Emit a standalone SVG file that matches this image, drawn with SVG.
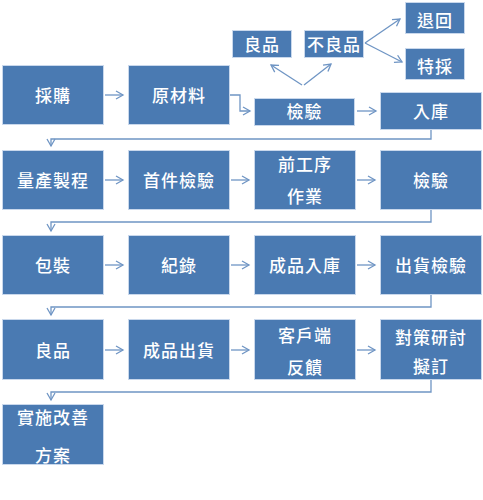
<svg xmlns="http://www.w3.org/2000/svg" width="483" height="500" viewBox="0 0 483 500">
<style>
.box{fill:#4a7ab2;stroke:#c9d8ec;stroke-width:1}
.t{fill:#ffffff;font-family:"Noto Sans CJK TC","Noto Sans CJK SC",sans-serif;font-size:17px;font-weight:500;text-anchor:middle;dominant-baseline:central;letter-spacing:1px}
.c{fill:none;stroke:#6f95c4;stroke-width:1.3}
</style>
<defs>
<marker id="ah" markerWidth="10" markerHeight="10" refX="8" refY="5" orient="auto" markerUnits="userSpaceOnUse">
<path d="M1,1 L8,5 L1,9" fill="none" stroke="#6f95c4" stroke-width="1.3"/>
</marker>
</defs>
<rect width="483" height="500" fill="#ffffff"/>
<g id="connectors">
<path class="c" d="M105,95 H123" marker-end="url(#ah)"/>
<path class="c" d="M230,95 H240 V111 H250" marker-end="url(#ah)"/>
<path class="c" d="M357,111 H376" marker-end="url(#ah)"/>
<path class="c" d="M302,85 L271,65" marker-end="url(#ah)"/>
<path class="c" d="M304,85 L331,64" marker-end="url(#ah)"/>
<path class="c" d="M365,43 L400,19" marker-end="url(#ah)"/>
<path class="c" d="M365,43 L402,62" marker-end="url(#ah)"/>
<path class="c" d="M431,130 V139 H51 V146" marker-end="url(#ah)"/>
<path class="c" d="M105,180 H123" marker-end="url(#ah)"/>
<path class="c" d="M231,180 H249" marker-end="url(#ah)"/>
<path class="c" d="M357,180 H375" marker-end="url(#ah)"/>
<path class="c" d="M431,210 V222 H51 V231" marker-end="url(#ah)"/>
<path class="c" d="M105,265 H123" marker-end="url(#ah)"/>
<path class="c" d="M231,265 H249" marker-end="url(#ah)"/>
<path class="c" d="M357,265 H375" marker-end="url(#ah)"/>
<path class="c" d="M431,295 V307 H51 V315" marker-end="url(#ah)"/>
<path class="c" d="M105,350 H123" marker-end="url(#ah)"/>
<path class="c" d="M231,350 H249" marker-end="url(#ah)"/>
<path class="c" d="M357,350 H375" marker-end="url(#ah)"/>
<path class="c" d="M431,380 V392 H51 V400" marker-end="url(#ah)"/>
</g>
<g id="n-caigou"><rect class="box" x="2.5" y="65.5" width="101" height="59"/><text class="t" x="53" y="94">採購</text></g>
<g id="n-yuancailiao"><rect class="box" x="128.5" y="65.5" width="101" height="59"/><text class="t" x="179" y="94">原材料</text></g>
<g id="n-jianyan1"><rect class="box" x="254.5" y="98.5" width="100" height="27"/><text class="t" x="304.5" y="110">檢驗</text></g>
<g id="n-ruku1"><rect class="box" x="380.5" y="92.5" width="101" height="37"/><text class="t" x="431" y="110">入庫</text></g>
<g id="n-liangpin1"><rect class="box" x="232.5" y="30.5" width="59" height="27"/><text class="t" x="262" y="43">良品</text></g>
<g id="n-buliangpin"><rect class="box" x="304.5" y="30.5" width="59" height="27"/><text class="t" x="334" y="43">不良品</text></g>
<g id="n-tuihui"><rect class="box" x="405.5" y="2.5" width="59" height="31"/><text class="t" x="435" y="19">退回</text></g>
<g id="n-tecai"><rect class="box" x="405.5" y="48.5" width="59" height="31"/><text class="t" x="435" y="65">特採</text></g>
<g id="n-liangchan"><rect class="box" x="2.5" y="150.5" width="101" height="59"/><text class="t" x="53" y="179">量產製程</text></g>
<g id="n-shoujian"><rect class="box" x="128.5" y="150.5" width="101" height="59"/><text class="t" x="179" y="179">首件檢驗</text></g>
<g id="n-qiangongxu"><rect class="box" x="254.5" y="150.5" width="101" height="59"/><text class="t" x="305" y="163">前工序</text><text class="t" x="305" y="195">作業</text></g>
<g id="n-jianyan2"><rect class="box" x="380.5" y="150.5" width="101" height="59"/><text class="t" x="431" y="179">檢驗</text></g>
<g id="n-baozhuang"><rect class="box" x="2.5" y="235.5" width="101" height="59"/><text class="t" x="53" y="264">包裝</text></g>
<g id="n-jilu"><rect class="box" x="128.5" y="235.5" width="101" height="59"/><text class="t" x="179" y="264">紀錄</text></g>
<g id="n-chengpinruku"><rect class="box" x="254.5" y="235.5" width="101" height="59"/><text class="t" x="305" y="264">成品入庫</text></g>
<g id="n-chuhuojianyan"><rect class="box" x="380.5" y="235.5" width="101" height="59"/><text class="t" x="431" y="264">出貨檢驗</text></g>
<g id="n-liangpin2"><rect class="box" x="2.5" y="319.5" width="101" height="60"/><text class="t" x="53" y="349">良品</text></g>
<g id="n-chengpinchuhuo"><rect class="box" x="128.5" y="319.5" width="101" height="60"/><text class="t" x="179" y="349">成品出貨</text></g>
<g id="n-kehuduan"><rect class="box" x="254.5" y="319.5" width="101" height="60"/><text class="t" x="305" y="334">客戶端</text><text class="t" x="305" y="366">反饋</text></g>
<g id="n-duice"><rect class="box" x="380.5" y="319.5" width="101" height="60"/><text class="t" x="431" y="336">對策研討</text><text class="t" x="431" y="365">擬訂</text></g>
<g id="n-shishi"><rect class="box" x="2.5" y="404.5" width="101" height="60"/><text class="t" x="53" y="416">實施改善</text><text class="t" x="53" y="454">方案</text></g>
</svg>
